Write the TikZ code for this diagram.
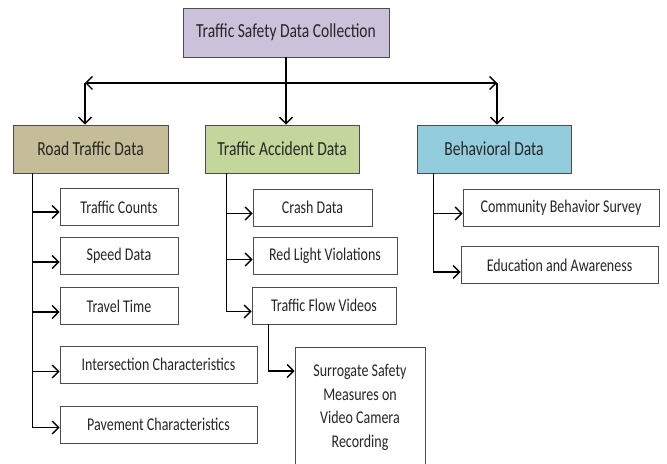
\documentclass[tikz,border=0pt]{standalone}
\usepackage{fontspec}
\setmainfont{Carlito}[FakeStretch=0.78]
\usetikzlibrary{arrows,arrows.meta}

\begin{document}
\begin{tikzpicture}[x=1bp,y=-1bp]
					\tikzstyle{box}=[rectangle,draw=black!70,line width=0.9pt,text=black!85,inner sep=2pt,font=\fontsize{20}{24}\selectfont]
					\tikzstyle{item}=[box,fill=white,minimum height=37bp,font=\fontsize{18}{23.5}\selectfont]
					\tikzstyle{link}=[line width=1.4pt,-{Straight Barb[length=6.5pt,width=13pt,line width=1.3pt]}]
					\useasboundingbox (0,0) rectangle (667,464);
					\node[box,fill={rgb,255:red,204;green,193;blue,218},minimum width=206bp,minimum height=49bp] (top) at (286,32.5) {Traffic Safety Data Collection};
					\node[box,fill={rgb,255:red,196;green,189;blue,151},minimum width=155bp,minimum height=48bp] (road) at (90.5,149) {Road Traffic Data};
					\node[box,fill={rgb,255:red,195;green,214;blue,155},minimum width=154bp,minimum height=48bp] (acc) at (282,149) {Traffic Accident Data};
					\node[box,fill={rgb,255:red,147;green,205;blue,221},minimum width=154bp,minimum height=48bp] (beh) at (494,149) {Behavioral Data};
					\node[item,minimum width=118bp] (tc) at (119,207) {Traffic Counts};
					\node[item,minimum width=118bp] (sd) at (119,256) {Speed Data};
					\node[item,minimum width=118bp] (tt) at (119,306) {Travel Time};
					\node[item,minimum width=197bp] (ic) at (158.5,364.5) {Intersection Characteristics};
					\node[item,minimum width=197bp] (pc) at (158.5,424.5) {Pavement Characteristics};
					\node[item,minimum width=119bp] (cd) at (312.5,207.5) {Crash Data};
					\node[item,minimum width=144bp] (rl) at (325,255.5) {Red Light Violations};
					\node[item,minimum width=144bp] (fv) at (324,305.5) {Traffic Flow Videos};
					\node[item,minimum width=130bp,minimum height=121bp,align=center] (ss) at (360,407.5) {Surrogate Safety\\Measures on\\Video Camera\\Recording};
					\node[item,minimum width=196bp] (cb) at (561,207.5) {Community Behavior Survey};
					\node[item,minimum width=197bp] (ea) at (559.5,265) {Education and Awareness};
					\coordinate (left) at (85,83);
					\coordinate (right) at (497,83);
					\draw[line width=1.4pt] (top.south) -- (top.south |- left);
					\draw[link] (top.south |- left) -- (left);
					\draw[link] (top.south |- left) -- (right);
					\draw[link] (left) -- (left |- road.north);
					\draw[link] (top.south |- left) -- (top.south |- acc.north);
					\draw[link] (right) -- (right |- beh.north);
					\draw[link] ([xshift=20bp]road.south west) |- ([yshift=-5bp]tc.west);
					\draw[link] ([xshift=20bp]road.south west) |- ([yshift=-6bp]sd.west);
					\draw[link] ([xshift=20bp]road.south west) |- ([yshift=-6bp]tt.west);
					\draw[link] ([xshift=20bp]road.south west) |- ([yshift=-7bp]ic.west);
					\draw[link] ([xshift=20bp]road.south west) |- ([yshift=-3bp]pc.west);
					\draw[link] ([xshift=22bp]acc.south west) |- ([yshift=-6bp]cd.west);
					\draw[link] ([xshift=22bp]acc.south west) |- ([yshift=-4bp]rl.west);
					\draw[link] ([xshift=22bp]acc.south west) |- ([yshift=-6bp]fv.west);
					\draw[link] ([xshift=17bp]fv.south west) |- (ss.west |- 0,371);
					\draw[link] ([xshift=17bp]beh.south west) |- ([yshift=-6bp]cb.west);
					\draw[link] ([xshift=17bp]beh.south west) |- ([yshift=-7bp]ea.west);
					\end{tikzpicture}
\end{document}
